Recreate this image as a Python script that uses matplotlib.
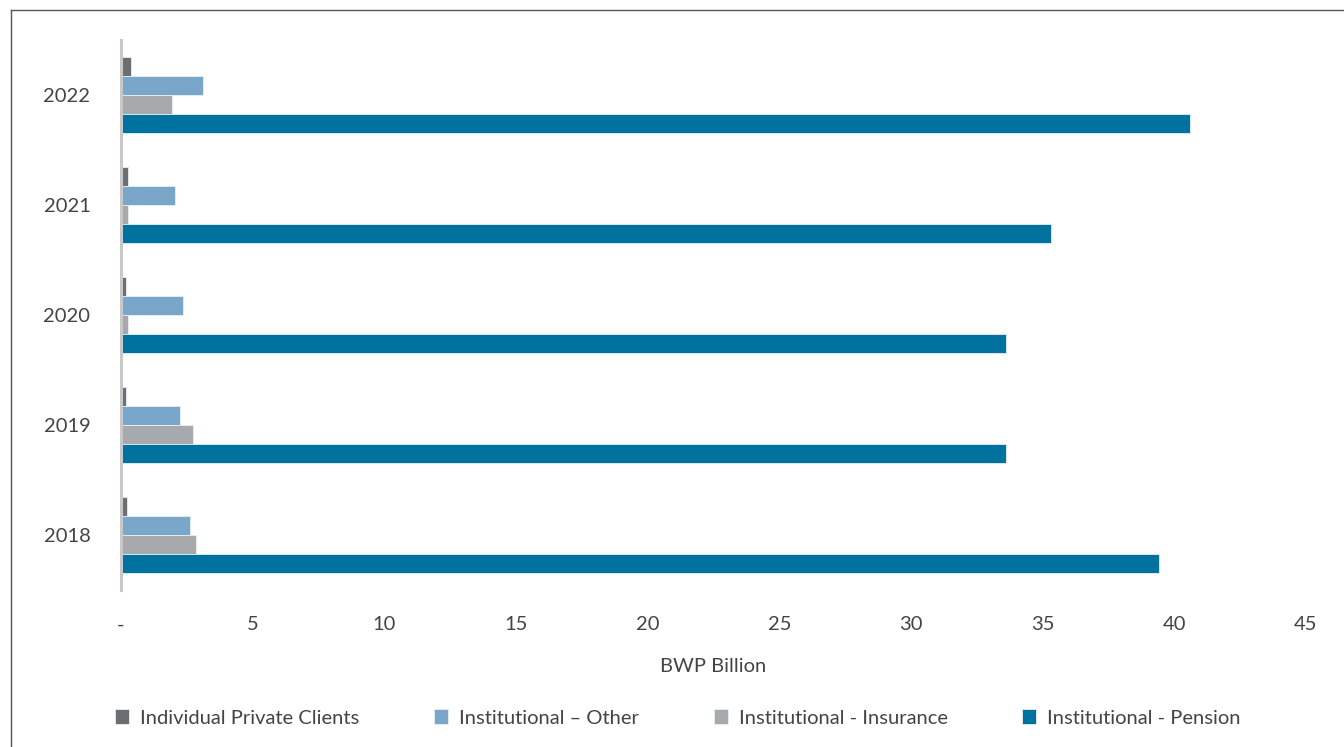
import matplotlib
matplotlib.use("Agg")
import matplotlib.pyplot as plt
import numpy as np
from matplotlib.lines import Line2D

years = ["2018", "2019", "2020", "2021", "2022"]
series_names = ["Individual Private Clients", "Institutional \u2013 Other",
                "Institutional - Insurance", "Institutional - Pension"]
individual_private = [0.24, 0.2, 0.2, 0.25, 0.37]
inst_other = [2.61, 2.23, 2.37, 2.04, 3.12]
inst_insurance = [2.86, 2.75, 0.27, 0.25, 1.93]
inst_pension = [39.4, 33.6, 33.6, 35.3, 40.6]
x_ticks = [0, 5, 10, 15, 20, 25, 30, 35, 40, 45]
x_ticklabels = ["-", "5", "10", "15", "20", "25", "30", "35", "40", "45"]

colors = ["#6d6e71", "#7aa7c9", "#a7a9ac", "#0072a0"]
values = [individual_private, inst_other, inst_insurance, inst_pension]

plt.rcParams['font.family'] = ['Lato', 'DejaVu Sans']
text_color = "#444444"

fig = plt.figure(figsize=(13.44, 7.47), dpi=100)
ax = fig.add_axes([121/1344, (747-590)/747, (1306-121)/1344, 550/747])

y = np.arange(len(years))
h = 0.173
offsets = [1.5*h, 0.5*h, -0.5*h, -1.5*h]
for name, vals, col, off in zip(series_names, values, colors, offsets):
    ax.barh(y + off, vals, height=h, color=col, edgecolor="#e6f0f6",
            linewidth=0.6, label=name)

ax.set_xlim(0, 45)
ax.set_ylim(-0.5, 4.5)
ax.set_yticks(y)
ax.set_yticklabels(years)
ax.set_xticks(x_ticks)
ax.set_xticklabels(x_ticklabels)
ax.tick_params(axis='y', length=0, pad=22, labelsize=14.5, labelcolor=text_color)
ax.tick_params(axis='x', length=0, pad=19, labelsize=14.5, labelcolor=text_color)
for s in ["top", "right", "bottom"]:
    ax.spines[s].set_visible(False)
ax.spines["left"].set_color("#c8c8c8")
ax.spines["left"].set_linewidth(2.2)
ax.set_xlabel("BWP Billion", fontsize=14.5, color=text_color, labelpad=18)

handles, labels = ax.get_legend_handles_labels()
leg = fig.legend(handles, labels, loc="center", bbox_to_anchor=(678/1344, 1 - 718/747),
                 ncol=4, frameon=False, fontsize=14.5, handlelength=0.7, handleheight=0.7,
                 handletextpad=0.55, columnspacing=3.7)
for t in leg.get_texts():
    t.set_color(text_color)

# outer frame lines
fig.add_artist(Line2D([11/1344, 11/1344], [0, 1 - 10/747], transform=fig.transFigure,
                      color="#555555", linewidth=1.0))
fig.add_artist(Line2D([11/1344, 1], [1 - 10/747, 1 - 10/747], transform=fig.transFigure,
                      color="#555555", linewidth=1.0))

fig.savefig("out.png", dpi=100)
